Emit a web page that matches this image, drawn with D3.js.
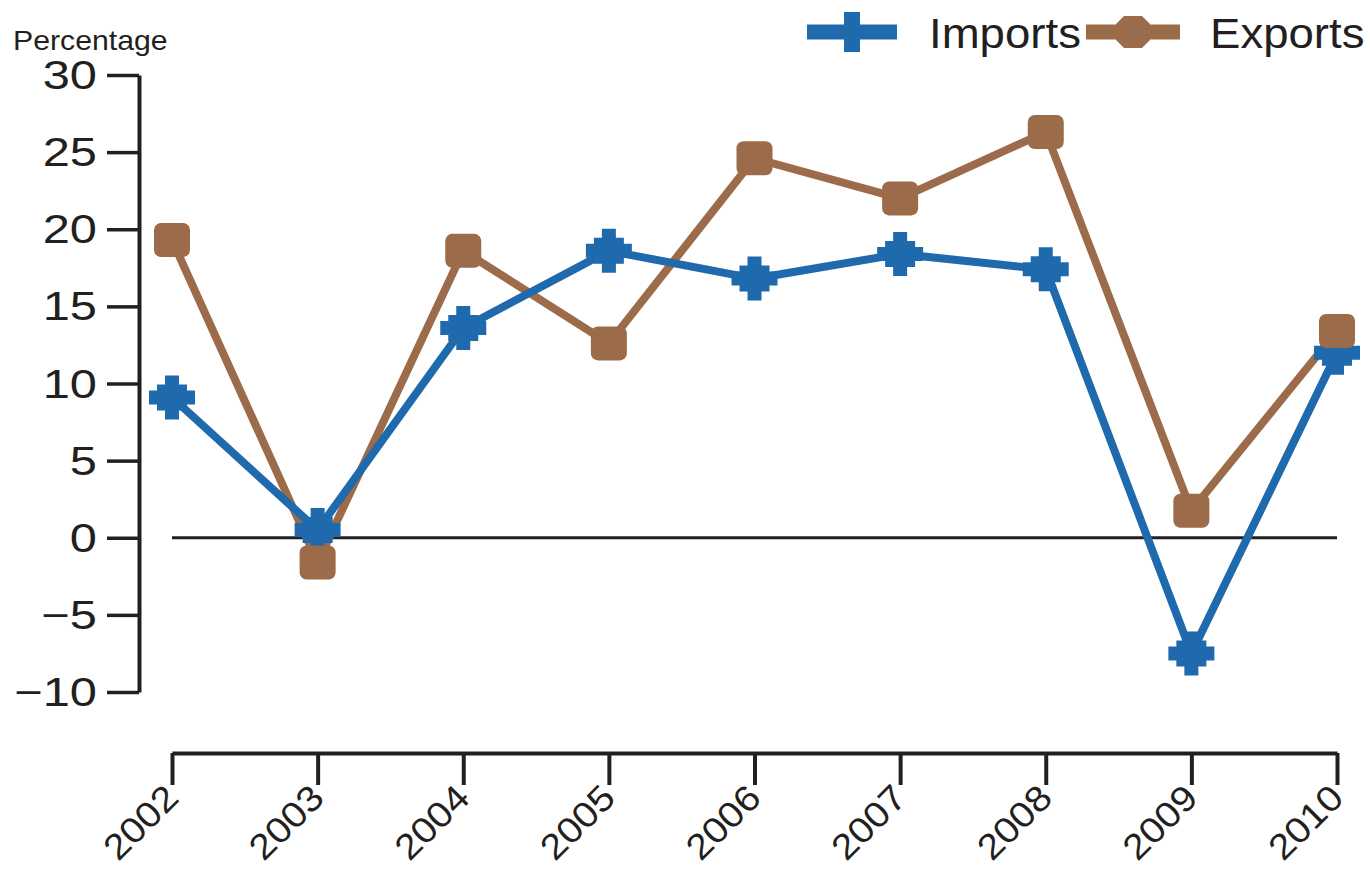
<!DOCTYPE html>
<html>
<head>
<meta charset="utf-8">
<script src="https://cdn.jsdelivr.net/npm/d3@7/dist/d3.min.js"></script>
<style>
  html, body { margin: 0; padding: 0; background: #fff; }
  svg { display: block; }
  text { font-family: "Liberation Sans", Arial, sans-serif; fill: #231f20; }
</style>
</head>
<body>
<svg id="chart" width="1370" height="871"></svg>
<script>
const years = ["2002","2003","2004","2005","2006","2007","2008","2009","2010"];
const imports = [9.1, 0.5, 13.6, 18.6, 16.8, 18.4, 17.4, -7.5, 12.0];
const exports = [19.3, -1.6, 18.6, 12.6, 24.6, 22.0, 26.3, 1.75, 13.4];
const yTicks = [-10, -5, 0, 5, 10, 15, 20, 25, 30];
const seriesNames = ["Imports", "Exports"];

const BLUE = "#1f69ad", BROWN = "#9c6b4a", INK = "#231f20";

const svg = d3.select("#chart");
const x = d3.scalePoint().domain(years).range([172, 1337]);
const y = d3.scaleLinear().domain([-10, 30]).range([692, 75]);

// Y axis
const yAxis = svg.append("g").attr("transform", "translate(139,0)")
  .call(d3.axisLeft(y).tickValues(yTicks).tickSize(32).tickSizeOuter(0).tickPadding(10));
yAxis.select(".domain").attr("stroke", INK).attr("stroke-width", 4);
yAxis.selectAll(".tick line").attr("stroke", INK).attr("stroke-width", 3.5);
yAxis.selectAll(".tick text")
  .attr("font-size", 40).attr("fill", INK).attr("font-family", "Liberation Sans, Arial, sans-serif")
  .attr("dy", "0.34em")
  .attr("transform", "translate(-42,0) scale(1.22,1) translate(42,0)");

// X axis
const xAxis = svg.append("g").attr("transform", "translate(0,753)")
  .call(d3.axisBottom(x).tickSize(32).tickSizeOuter(0).tickPadding(4));
xAxis.select(".domain").attr("stroke", INK).attr("stroke-width", 4);
xAxis.selectAll(".tick line").attr("stroke", INK).attr("stroke-width", 4);
xAxis.selectAll(".tick text")
  .attr("font-size", 36).attr("fill", INK).attr("font-family", "Liberation Sans, Arial, sans-serif")
  .attr("text-anchor", "end").attr("dy", 0)
  .attr("transform", "translate(8,47) rotate(-45) scale(1.1,1)")
  .attr("y", 0).attr("x", 0);

// zero line
svg.append("line")
  .attr("x1", x(years[0])).attr("x2", x(years[years.length-1]))
  .attr("y1", y(0)).attr("y2", y(0))
  .attr("stroke", INK).attr("stroke-width", 3);

// Percentage label
svg.append("text").attr("x", 13).attr("y", 50).attr("font-size", 28)
  .attr("transform", "translate(13,0) scale(1.08,1) translate(-13,0)")
  .text("Percentage");

const line = d3.line().x((d, i) => x(years[i])).y(d => y(d));

function crossPath() {
  const hw = 23, hh = 22, arm = 7, sh = 15, sv = 13;
  return `M${-arm},${-hh} L${arm},${-hh} L${arm},${-sv} L${sh},${-sv} L${sh},${-arm} L${hw},${-arm} L${hw},${arm} L${sh},${arm} L${sh},${sv} L${arm},${sv} L${arm},${hh} L${-arm},${hh} L${-arm},${sv} L${-sh},${sv} L${-sh},${arm} L${-hw},${arm} L${-hw},${-arm} L${-sh},${-arm} L${-sh},${-sv} L${-arm},${-sv} Z`;
}

// Exports line
svg.append("path").datum(exports).attr("d", line)
  .attr("fill", "none").attr("stroke", BROWN).attr("stroke-width", 8).attr("stroke-linejoin", "round");
// Imports line
svg.append("path").datum(imports).attr("d", line)
  .attr("fill", "none").attr("stroke", BLUE).attr("stroke-width", 8).attr("stroke-linejoin", "round");

svg.append("g").selectAll("path").data(imports).join("path")
  .attr("d", crossPath())
  .attr("transform", (d, i) => `translate(${x(years[i])},${y(d)})`)
  .attr("fill", BLUE);

svg.append("g").selectAll("rect").data(exports).join("rect")
  .attr("x", (d, i) => x(years[i]) - 18).attr("y", d => y(d) - 17)
  .attr("width", 36).attr("height", 34).attr("rx", 7)
  .attr("fill", BROWN);

// Legend
const legend = svg.append("g");
const legendItems = [
  { name: seriesNames[0], color: BLUE, lx1: 807, lx2: 897, tx: 929, marker: "cross" },
  { name: seriesNames[1], color: BROWN, lx1: 1086, lx2: 1180, tx: 1210, marker: "oct" }
];
legendItems.forEach(it => {
  legend.append("line").attr("x1", it.lx1).attr("x2", it.lx2).attr("y1", 32).attr("y2", 32)
    .attr("stroke", it.color).attr("stroke-width", 15);
  const cx = (it.lx1 + it.lx2) / 2;
  if (it.marker === "cross") {
    legend.append("rect").attr("x", cx - 8).attr("y", 12).attr("width", 16).attr("height", 40).attr("fill", it.color);
  } else {
    legend.append("path")
      .attr("d", "M-9,-16 L9,-16 L17,-8 L17,8 L9,16 L-9,16 L-17,8 L-17,-8 Z")
      .attr("transform", `translate(${cx},32)`).attr("fill", it.color);
  }
  legend.append("text").attr("x", it.tx).attr("y", 48).attr("font-size", 43)
    .attr("transform", `translate(${it.tx},0) scale(1.06,1) translate(${-it.tx},0)`)
    .text(it.name);
});
</script>
</body>
</html>
